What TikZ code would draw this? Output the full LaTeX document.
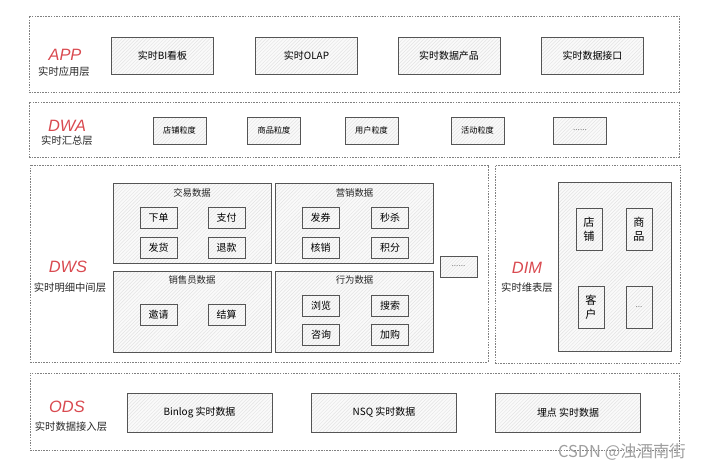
\documentclass[tikz,border=0pt]{standalone}
\usepackage{fontspec}
\setmainfont{Noto Sans CJK SC}
\newfontfamily\latin{Liberation Sans}
\usetikzlibrary{patterns}
\definecolor{layerred}{HTML}{D94A50}
\definecolor{boxline}{HTML}{555555}
\definecolor{frameline}{HTML}{808080}

\begin{document}
\begin{tikzpicture}[x=0.03cm,y=-0.03cm,
	layer/.style={draw=frameline,dash pattern=on 1.3pt off 1pt,line width=0.5pt,inner sep=0pt},
	box/.style={draw=boxline,line width=0.6pt,preaction={fill=gray!4},pattern=north east lines,pattern color=gray!22,inner sep=0pt},
	layername/.style={font=\latin\itshape\fontsize{14}{14}\selectfont,text=layerred},
	layersub/.style={font=\fontsize{8.8}{10}\selectfont,text=black!85},
	grouptitle/.style={font=\fontsize{8}{9}\selectfont,text=black!85},
	big/.style={box,minimum width=3.06cm,minimum height=1.12cm,font=\fontsize{8.5}{10}\selectfont},
	small/.style={box,minimum width=1.59cm,minimum height=0.81cm,font=\fontsize{7}{8}\selectfont},
	group/.style={box,minimum width=4.74cm,minimum height=2.4cm},
	item/.style={box,minimum width=1.11cm,minimum height=0.63cm,font=\fontsize{8.5}{10}\selectfont},
	dimitem/.style={box,minimum width=0.78cm,minimum height=1.26cm,align=center,font=\fontsize{9.5}{12}\selectfont},
	wide/.style={box,minimum width=4.35cm,minimum height=1.17cm,font=\fontsize{8.5}{10}\selectfont}]

	\useasboundingbox (0,0) rectangle (706,470);

	%layer frames
	\node[layer,minimum width=19.5cm,minimum height=2.28cm] (app) at (354,54) {};
	\node[layer,minimum width=19.5cm,minimum height=1.65cm] (dwa) at (354,129.5) {};
	\node[layer,minimum width=13.74cm,minimum height=5.91cm] (dws) at (259,263.5) {};
	\node[layer,minimum width=5.55cm,minimum height=5.94cm] (dim) at (587.5,264) {};
	\node[layer,minimum width=19.47cm,minimum height=2.31cm] (ods) at (354.5,411.5) {};

	%APP
	\node[layername] (appname) at (65,55) {APP};
	\node[layersub] (appsub) at (64,72) {实时应用层};
	\node[big] (bi) at (162.5,56) {实时BI看板};
	\node[big] (olap) at (306.5,56) {实时OLAP};
	\node[big] (prod) at (449,56) {实时数据产品};
	\node[big] (api) at (592.5,56) {实时数据接口};

	%DWA
	\node[layername] (dwaname) at (67,126) {DWA};
	\node[layersub] (dwasub) at (67,141) {实时汇总层};
	\node[small] (shop) at (179.5,130.5) {店铺粒度};
	\node[small] (goods) at (274,130.5) {商品粒度};
	\node[small] (user) at (371.5,130.5) {用户粒度};
	\node[small] (act) at (477.5,130.5) {活动粒度};
	\node[small,text=gray] (dwamore) at (580,130.5) {......};

	%DWS
	\node[layername] (dwsname) at (68,267) {DWS};
	\node[layersub] (dwssub) at (70,288) {实时明细中间层};
	\node[group] (trade) at (192,223) {};
	\node[group,minimum height=2.43cm] (sales) at (192,311.5) {};
	\node[group] (mkt) at (354.5,223) {};
	\node[group,minimum height=2.43cm] (behav) at (354.5,311.5) {};
	\node[grouptitle] (tradet) at (192,193) {交易数据};
	\node[grouptitle] (salest) at (192,280) {销售员数据};
	\node[grouptitle] (mktt) at (354.5,193) {营销数据};
	\node[grouptitle] (behavt) at (354.5,280) {行为数据};

	\node[item] (order) at (158.5,217.5) {下单};
	\node[item] (pay) at (226.5,217.5) {支付};
	\node[item] (ship) at (158.5,247.5) {发货};
	\node[item] (refund) at (226.5,247.5) {退款};
	\node[item] (invite) at (158.5,314.5) {邀请};
	\node[item] (settle) at (226.5,314.5) {结算};
	\node[item] (coupon) at (320.5,217.5) {发券};
	\node[item] (flash) at (390,217.5) {秒杀};
	\node[item] (redeem) at (320.5,247.5) {核销};
	\node[item] (points) at (390,247.5) {积分};
	\node[item] (browse) at (321,305.5) {浏览};
	\node[item] (search) at (390,305.5) {搜索};
	\node[item] (ask) at (321,335) {咨询};
	\node[item] (cart) at (390,335) {加购};
	\node[item,text=gray,font=\fontsize{7}{8}\selectfont] (dwsmore) at (458.5,266.5) {......};

	%DIM
	\node[layername] (dimname) at (527,268) {DIM};
	\node[layersub] (dimsub) at (527,288) {实时维表层};
	\node[box,minimum width=3.39cm,minimum height=5.07cm] (dimbox) at (614.5,266.5) {};
	\node[dimitem] (dshop) at (589,229) {店\\铺};
	\node[dimitem] (dgoods) at (639,229) {商\\品};
	\node[dimitem] (dcust) at (591,307.5) {客\\户};
	\node[dimitem,text=gray,font=\fontsize{7}{8}\selectfont] (dmore) at (639,307.5) {...};

	%ODS
	\node[layername] (odsname) at (67,407) {ODS};
	\node[layersub] (odssub) at (71,427) {实时数据接入层};
	\node[wide] (binlog) at (199.5,412.5) {Binlog 实时数据};
	\node[wide] (nsq) at (384,412.5) {NSQ 实时数据};
	\node[wide] (track) at (568,412.5) {埋点 实时数据};

	%watermark
	\node[text=gray!75,font=\fontsize{14}{14}\selectfont] (mark) at (622,452) {CSDN @浊酒南街};
\end{tikzpicture}
\end{document}
